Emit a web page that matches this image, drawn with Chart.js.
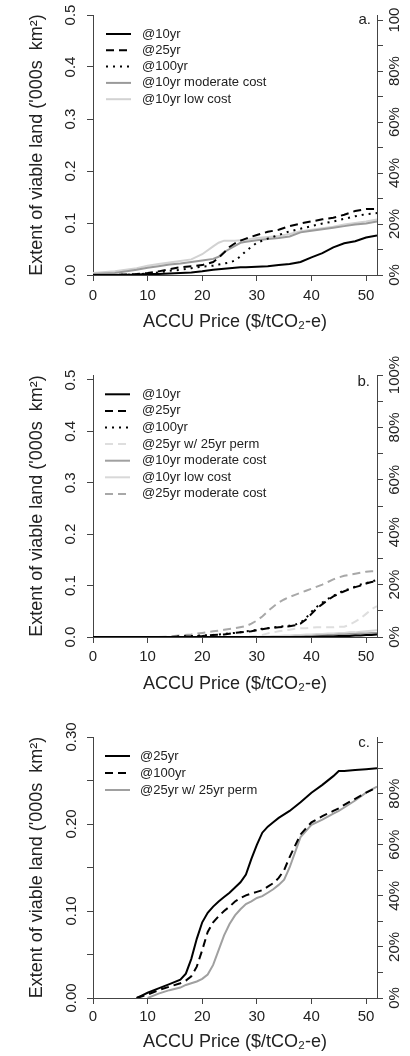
<!DOCTYPE html>
<html>
<head>
<meta charset="UTF-8">
<title>Extent of viable land vs ACCU price</title>
<script src="https://cdn.jsdelivr.net/npm/chart.js"></script>
<style>
  body { margin: 0; background: #fff; }
  canvas { display: block; }
</style>
</head>
<body>
<canvas id="chartA" width="410" height="352"></canvas>
<canvas id="chartB" width="410" height="360"></canvas>
<canvas id="chartC" width="410" height="344"></canvas>
<script>
// ---- data ('000s km2 against ACCU price) ----
// panel a
const priceA = [0, 4, 8, 10, 12, 14, 16, 18, 20, 22, 23, 24, 25, 26, 27, 28, 30, 32, 34, 36, 38, 40, 42, 44, 46, 48, 50, 52];
const a10yr  = [0, 0, 0.001, 0.002, 0.002, 0.003, 0.004, 0.005, 0.007, 0.010, 0.011, 0.012, 0.013, 0.014, 0.015, 0.015, 0.016, 0.017, 0.019, 0.021, 0.025, 0.034, 0.042, 0.053, 0.061, 0.065, 0.072, 0.076];
const a25yr  = [0, 0, 0.002, 0.004, 0.007, 0.011, 0.015, 0.017, 0.019, 0.025, 0.033, 0.043, 0.054, 0.061, 0.066, 0.070, 0.077, 0.083, 0.087, 0.094, 0.099, 0.103, 0.107, 0.110, 0.116, 0.123, 0.127, 0.127];
const a100yr = [0, 0, 0.001, 0.003, 0.005, 0.008, 0.010, 0.013, 0.016, 0.018, 0.020, 0.022, 0.024, 0.028, 0.036, 0.046, 0.062, 0.070, 0.077, 0.084, 0.089, 0.094, 0.099, 0.103, 0.108, 0.113, 0.117, 0.119];
const a10Mod = [0.002, 0.004, 0.010, 0.014, 0.017, 0.020, 0.022, 0.025, 0.028, 0.031, 0.035, 0.044, 0.050, 0.056, 0.062, 0.064, 0.067, 0.069, 0.071, 0.074, 0.082, 0.085, 0.088, 0.091, 0.094, 0.097, 0.099, 0.103];
const a10Low = [0.004, 0.007, 0.013, 0.018, 0.021, 0.024, 0.027, 0.030, 0.040, 0.055, 0.062, 0.066, 0.066, 0.066, 0.067, 0.068, 0.071, 0.073, 0.075, 0.079, 0.084, 0.087, 0.090, 0.093, 0.097, 0.100, 0.103, 0.107];

// panel b
const priceB  = [0, 5, 10, 12, 14, 16, 18, 20, 22, 24, 26, 28, 29, 30, 31, 32, 33, 34, 35, 36, 37, 38, 39, 40, 41, 42, 43, 44, 45, 46, 47, 48, 49, 50, 51, 52];
const b10yr   = [0, 0, 0, 0, 0, 0, 0, 0, 0, 0, 0, 0, 0, 0, 0, 0, 0, 0, 0, 0, 0, 0, 0, 0, 0.0005, 0.001, 0.001, 0.001, 0.002, 0.002, 0.002, 0.003, 0.003, 0.004, 0.004, 0.005];
const b25yr   = [0, 0, 0, 0, 0, 0.001, 0.001, 0.002, 0.004, 0.005, 0.008, 0.010, 0.011, 0.013, 0.015, 0.017, 0.018, 0.019, 0.020, 0.021, 0.023, 0.026, 0.034, 0.045, 0.056, 0.064, 0.072, 0.079, 0.084, 0.089, 0.093, 0.097, 0.100, 0.104, 0.107, 0.109];
const b100yr  = [0, 0, 0, 0, 0, 0.001, 0.002, 0.003, 0.004, 0.006, 0.008, 0.011, 0.012, 0.014, 0.016, 0.017, 0.019, 0.020, 0.021, 0.022, 0.024, 0.028, 0.037, 0.049, 0.059, 0.067, 0.074, 0.080, 0.086, 0.090, 0.094, 0.098, 0.102, 0.105, 0.108, 0.111];
const b25Perm = [0, 0, 0, 0, 0, 0, 0, 0, 0, 0, 0, 0, 0.001, 0.002, 0.004, 0.007, 0.009, 0.011, 0.013, 0.014, 0.016, 0.017, 0.017, 0.018, 0.019, 0.019, 0.019, 0.019, 0.020, 0.020, 0.024, 0.030, 0.036, 0.045, 0.054, 0.060];
const b10Mod  = [0, 0, 0, 0, 0, 0, 0, 0, 0, 0, 0, 0, 0, 0, 0, 0, 0, 0, 0, 0, 0.001, 0.001, 0.002, 0.002, 0.003, 0.003, 0.004, 0.004, 0.005, 0.005, 0.006, 0.006, 0.007, 0.007, 0.008, 0.008];
const b10Low  = [0, 0, 0, 0, 0, 0, 0, 0, 0, 0, 0, 0, 0, 0, 0.001, 0.001, 0.002, 0.002, 0.003, 0.003, 0.004, 0.004, 0.005, 0.005, 0.006, 0.006, 0.007, 0.007, 0.008, 0.008, 0.009, 0.009, 0.010, 0.011, 0.012, 0.013];
const b25Mod  = [null, null, null, 0, 0.001, 0.003, 0.005, 0.008, 0.011, 0.014, 0.017, 0.021, 0.026, 0.032, 0.040, 0.050, 0.059, 0.067, 0.073, 0.078, 0.082, 0.086, 0.090, 0.094, 0.098, 0.102, 0.107, 0.112, 0.116, 0.119, 0.121, 0.123, 0.125, 0.127, 0.128, 0.128];

// panel c
const priceC  = [8, 9, 10, 12, 14, 16, 17, 18, 19, 20, 21, 22, 23, 24, 25, 26, 27, 28, 29, 30, 31, 32, 33, 34, 35, 36, 38, 40, 42, 44, 45, 46, 48, 50, 52];
const c25yr   = [0, 0.003, 0.006, 0.011, 0.016, 0.021, 0.028, 0.045, 0.068, 0.087, 0.098, 0.105, 0.111, 0.116, 0.121, 0.127, 0.133, 0.142, 0.160, 0.176, 0.190, 0.197, 0.202, 0.207, 0.211, 0.215, 0.225, 0.236, 0.245, 0.255, 0.261, 0.261, 0.262, 0.263, 0.264];
const c100yr  = [0, 0.002, 0.004, 0.009, 0.013, 0.017, 0.020, 0.025, 0.036, 0.055, 0.076, 0.087, 0.094, 0.100, 0.105, 0.111, 0.115, 0.118, 0.120, 0.122, 0.124, 0.128, 0.132, 0.138, 0.147, 0.162, 0.188, 0.202, 0.209, 0.215, 0.218, 0.222, 0.229, 0.236, 0.242];
const c25Perm = [null, null, 0, 0.005, 0.009, 0.012, 0.015, 0.017, 0.019, 0.022, 0.027, 0.038, 0.055, 0.072, 0.085, 0.095, 0.102, 0.108, 0.111, 0.115, 0.117, 0.121, 0.125, 0.130, 0.136, 0.150, 0.185, 0.199, 0.205, 0.212, 0.215, 0.219, 0.227, 0.236, 0.243];

const xTicks = [0, 10, 20, 30, 40, 50];

// ---- looks ----
const FONT = '"Liberation Sans", Arial, Helvetica, sans-serif';
const INK = '#222';
const AXIS = '#444';
const DASH = [8, 5];
const DOT = [2, 5];

function pts(xs, ys) {
  return xs.map((x, i) => ({ x: x, y: ys[i] }));
}

function series(label, xs, ys, color, dash) {
  return {
    label: label,
    data: pts(xs, ys),
    borderColor: color,
    borderWidth: 2,
    borderDash: dash || [],
    borderCapStyle: 'butt',
    pointRadius: 0,
    tension: 0,
    fill: false,
    yAxisID: 'y'
  };
}

// key drawn R-style inside the plot, plus the panel letter
const keyPlugin = {
  id: 'lineKey',
  afterDraw(chart, args, o) {
    const ctx = chart.ctx;
    ctx.save();
    ctx.font = '13px ' + FONT;
    ctx.textBaseline = 'middle';
    ctx.fillStyle = INK;
    chart.data.datasets.forEach((ds, i) => {
      const y = o.y + i * o.step;
      ctx.strokeStyle = ds.borderColor;
      ctx.lineWidth = ds.borderWidth;
      ctx.setLineDash(ds.borderDash);
      ctx.beginPath();
      ctx.moveTo(o.x, y);
      ctx.lineTo(o.x + 25, y);
      ctx.stroke();
      ctx.fillText(ds.label, o.textX, y);
    });
    ctx.setLineDash([]);
    ctx.font = '15px ' + FONT;
    ctx.textAlign = 'right';
    ctx.fillText(o.tag, o.tagX, o.tagY);
    ctx.restore();
  }
};

function fix(prop, v) {
  return s => {
    s[prop] = v;
    s.paddingLeft = s.paddingRight = s.paddingTop = s.paddingBottom = 0;
  };
}

function panel(id, o) {
  return new Chart(document.getElementById(id), {
    type: 'line',
    data: { datasets: o.datasets },
    options: {
      responsive: false,
      animation: false,
      devicePixelRatio: 1,
      layout: { padding: { top: o.top, left: 0, right: 0, bottom: 0 } },
      plugins: {
        legend: { display: false },
        tooltip: { enabled: false },
        lineKey: o.key
      },
      scales: {
        x: {
          type: 'linear',
          min: 0,
          max: 52,
          border: { display: true, color: AXIS, width: 1 },
          grid: { drawOnChartArea: false, drawTicks: true, tickLength: 6, color: AXIS },
          afterBuildTicks: s => { s.ticks = xTicks.map(v => ({ value: v })); },
          ticks: { autoSkip: false, maxRotation: 0, padding: o.xPad, color: INK, font: { family: FONT, size: 15 } },
          title: {
            display: true,
            text: 'ACCU Price ($/tCO\u2082-e)',
            color: INK,
            font: { family: FONT, size: 18 },
            padding: { top: 0, bottom: o.xTitlePad }
          },
          afterFit: fix('height', o.xHeight)
        },
        y: {
          position: 'left',
          min: 0,
          max: o.yMax,
          border: { display: true, color: AXIS, width: 1 },
          grid: { drawOnChartArea: false, drawTicks: true, tickLength: 6, color: AXIS },
          ticks: {
            stepSize: o.yStep,
            includeBounds: false,
            autoSkip: false,
            minRotation: 90,
            maxRotation: 90,
            crossAlign: 'center',
            padding: o.yPad,
            color: INK,
            font: { family: FONT, size: 15 },
            callback: o.yLabel
          },
          title: {
            display: true,
            text: "Extent of viable land ('000s  km\u00b2)",
            color: INK,
            font: { family: FONT, size: 18 },
            padding: { top: 26, bottom: 0 }
          },
          afterFit: fix('width', 93)
        },
        y1: {
          position: 'right',
          min: 0,
          max: o.pMax,
          border: { display: true, color: AXIS, width: 1 },
          grid: { drawOnChartArea: false, drawTicks: true, tickLength: 6, color: AXIS },
          ticks: {
            stepSize: 10,
            includeBounds: false,
            autoSkip: false,
            minRotation: 90,
            maxRotation: 90,
            crossAlign: 'center',
            padding: o.pPad,
            color: INK,
            font: { family: FONT, size: 15 },
            callback: o.pLabel
          },
          afterFit: fix('width', 33)
        }
      }
    },
    plugins: [keyPlugin]
  });
}

const oneDp = v => (Math.round(v * 10) % 1 === 0 ? v.toFixed(1) : '');

panel('chartA', {
  top: 15, xHeight: 77, xPad: 6, xTitlePad: 19,
  yMax: 0.5, yStep: 0.1, yPad: 6, yLabel: v => v.toFixed(1),
  pMax: 102, pPad: -3,
  pLabel: v => (v === 100 ? '100' : (v % 20 === 0 ? v + '%' : '')),
  key: { x: 106, y: 34, step: 16.3, textX: 142, tag: 'a.', tagX: 371, tagY: 20 },
  datasets: [
    series('@10yr', priceA, a10yr, '#000'),
    series('@25yr', priceA, a25yr, '#000', DASH),
    series('@100yr', priceA, a100yr, '#000', DOT),
    series('@10yr moderate cost', priceA, a10Mod, '#9a9a9a'),
    series('@10yr low cost', priceA, a10Low, '#d2d2d2')
  ]
});

panel('chartB', {
  top: 23, xHeight: 75, xPad: 5, xTitlePad: 17,
  yMax: 0.5097, yStep: 0.1, yPad: 6, yLabel: v => v.toFixed(1),
  pMax: 100, pPad: -7,
  pLabel: v => (v % 20 === 0 ? v + '%' : ''),
  key: { x: 105, y: 42.3, step: 16.6, textX: 142, tag: 'b.', tagX: 370, tagY: 30 },
  datasets: [
    series('@10yr', priceB, b10yr, '#000'),
    series('@25yr', priceB, b25yr, '#000', DASH),
    series('@100yr', priceB, b100yr, '#000', DOT),
    series('@25yr w/ 25yr perm', priceB, b25Perm, '#dedede', DASH),
    series('@10yr moderate cost', priceB, b10Mod, '#a0a0a0'),
    series('@10yr low cost', priceB, b10Low, '#d8d8d8'),
    series('@25yr moderate cost', priceB, b25Mod, '#a8a8a8', DASH)
  ]
});

panel('chartC', {
  top: 25, xHeight: 58, xPad: 4, xTitlePad: 3,
  yMax: 0.3, yStep: 0.05, yPad: 1,
  yLabel: v => (Math.round(v * 100) % 10 === 0 ? v.toFixed(2) : ''),
  pMax: 102.2, pPad: -3,
  pLabel: v => (v % 20 === 0 && v < 100 ? v + '%' : ''),
  key: { x: 105, y: 44, step: 17, textX: 140, tag: 'c.', tagX: 370, tagY: 31 },
  datasets: [
    series('@25yr', priceC, c25yr, '#000'),
    series('@100yr', priceC, c100yr, '#000', DASH),
    series('@25yr w/ 25yr perm', priceC, c25Perm, '#a0a0a0')
  ]
});
</script>
</body>
</html>
